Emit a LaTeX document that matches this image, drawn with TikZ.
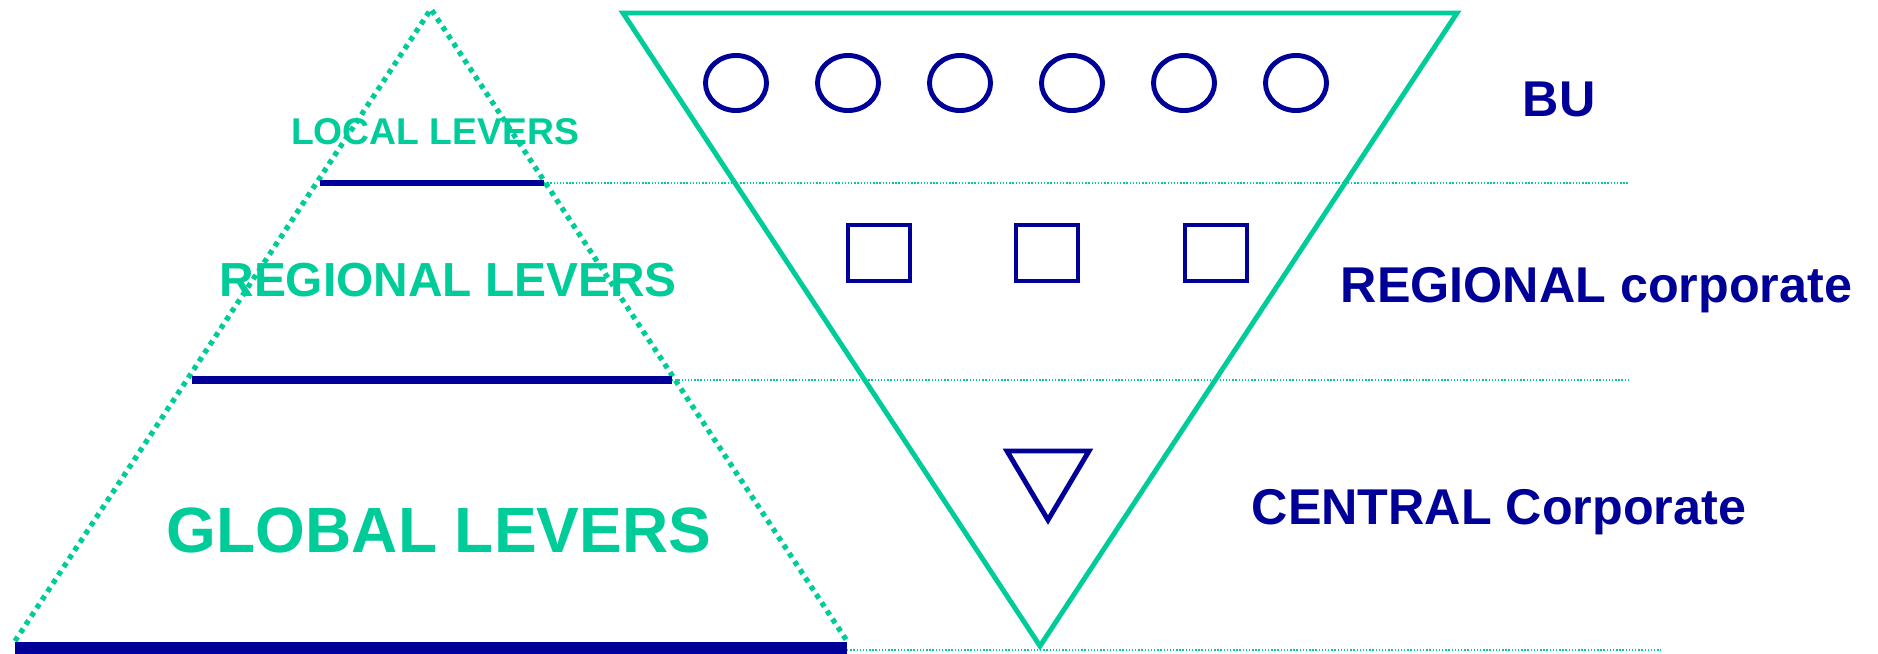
\documentclass[tikz,border=0pt]{standalone}
\usepackage{fontspec}
\setmainfont{Liberation Sans}
\definecolor{levgreen}{RGB}{0,204,153}
\definecolor{orgblue}{RGB}{0,0,153}
\begin{document}
\begin{tikzpicture}[x=0.01cm,y=-0.01cm,
  pyr/.style={levgreen,line width=1.5pt,dash pattern=on 1.4pt off 1.4pt},
  guide/.style={levgreen,line width=0.4pt,dash pattern=on 0.4pt off 0.5pt},
  shp/.style={orgblue,line width=1.4pt},
  lev/.style={text=levgreen,inner sep=0pt,anchor=base},
  org/.style={text=orgblue,inner sep=0pt,anchor=base west}]
\useasboundingbox (0,0) rectangle (1878,653);
% lever labels
\node[lev,font=\bfseries\fontsize{10.6}{12}\selectfont] (local) at (435,144) {LOCAL LEVERS};
\node[lev,font=\bfseries\fontsize{13.6}{16}\selectfont] (regional) at (448,296) {REGIONAL LEVERS};
\node[lev,font=\bfseries\fontsize{18.2}{21}\selectfont] (global) at (439,552) {GLOBAL LEVERS};
% dotted pyramid
\coordinate (apex) at (431,9);
\coordinate (bl) at (15,641);
\coordinate (br) at (847,641);
\draw[pyr] (bl) -- (apex) -- (br);
% level bars and guides
\coordinate (t1) at (320,183); \coordinate (t2) at (544,183);
\coordinate (m1) at (192,380); \coordinate (m2) at (672,380);
\coordinate (b1) at (15,648); \coordinate (b2) at (847,648);
\coordinate (g1) at (1629,183); \coordinate (g2) at (1629,380); \coordinate (g3) at (1661,650);
\draw[orgblue,line width=1.6pt] (t1) -- (t2);
\draw[orgblue,line width=2.5pt] (m1) -- (m2);
\draw[orgblue,line width=3.2pt] (b1) -- (b2);
\draw[guide] (t2) -- (g1);
\draw[guide] (m2) -- (g2);
\draw[guide] (b2 |- g3) -- (g3);
% inverted triangle
\draw[levgreen,line width=1.4pt] (623,13) -- (1457,13) -- (1040,646) -- cycle;
\foreach \x in {736,848,960,1072,1184,1296} \draw[shp] (\x,83) ellipse (0.305cm and 0.275cm);
\foreach \x in {879,1047,1216} \draw[shp] (\x-31,225) rectangle (\x+31,281);
\draw[shp] (1007,451) -- (1089,451) -- (1048,520) -- cycle;
% organisation labels
\node[org,anchor=base,font=\bfseries\fontsize{14.3}{17}\selectfont] (bu) at (1559,116) {BU};
\node[org,font=\bfseries\fontsize{14.3}{17}\selectfont] (regcorp) at (1340,302) {REGIONAL corporate};
\node[org,font=\bfseries\fontsize{14.3}{17}\selectfont] (central) at (1251,524) {CENTRAL Corporate};
\end{tikzpicture}
\end{document}
